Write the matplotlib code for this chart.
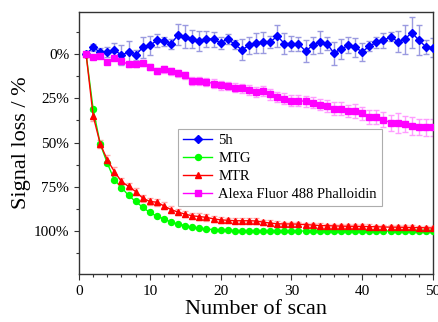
import matplotlib
matplotlib.use("Agg")
import matplotlib.pyplot as plt
from matplotlib.ticker import FixedLocator, MultipleLocator
import numpy as np

plt.rcParams['font.family'] = ['Liberation Serif', 'DejaVu Serif']
plt.rcParams['mathtext.fontset'] = 'stix'

scans = list(range(1, 51))

loss_5h = [0, -3.8, -1, -1.3, -2.3, 0.6, -1.3, 0.6, -3.8, -4.9,
           -7.7, -7.3, -5.8, -10.9, -9.8, -8.5, -7.3, -8.8, -8.3, -6.4,
           -8.6, -5.5, -2.4, -4.9, -6.4, -6.6, -6.8, -10.2, -6.0, -6.0,
           -5.8, -1.7, -4.9, -6.8, -6.0, -0.6, -2.8, -4.9, -3.8, -1.3,
           -4.5, -6.6, -7.7, -9.8, -7.1, -8.3, -12.2, -7.9, -4.1, -3.6]
err_5h = [0, 2.0, 2.5, 3.0, 4.0, 5.5, 6.0, 3.0, 6.0, 5.5,
          3.5, 2.5, 3.0, 6.0, 6.5, 5.0, 5.5, 4.5, 4.0, 3.5,
          3.0, 2.5, 6.0, 5.0, 5.5, 6.0, 3.5, 6.0, 6.0, 4.5,
          4.0, 6.0, 5.0, 6.0, 3.5, 6.5, 5.5, 4.5, 5.5, 5.0,
          3.0, 3.0, 4.5, 2.5, 6.0, 8.0, 9.0, 8.5, 4.0, 5.5]

loss_mtg = [0, 31.2, 50.8, 61.7, 71.1, 75.4, 79.9, 83.3, 86.6, 89.5,
            91.7, 93.1, 95.0, 96.1, 96.9, 98.0, 98.5, 98.9, 99.2, 99.5,
            99.6, 99.7, 99.8, 99.8, 99.9, 99.9, 99.9, 100, 100, 100,
            100, 100, 100, 100, 100, 100, 100, 100, 100, 100,
            100, 100, 100, 100, 100, 100, 100, 100, 100, 100.2]
err_mtg = [0, 1.0, 1.0, 0.8, 0.8, 0.6, 0.6, 0.5, 0.5, 0.4,
           0.4, 0.3, 0.3, 0.3, 0.3, 0.3, 0.3, 0.3, 0.3, 0.3,
           0.3, 0.3, 0.3, 0.3, 0.3, 0.3, 0.3, 0.3, 0.3, 0.3,
           0.3, 0.3, 0.3, 0.3, 0.3, 0.3, 0.3, 0.3, 0.3, 0.3,
           0.3, 0.3, 0.3, 0.3, 0.3, 0.3, 0.3, 0.3, 0.3, 0.3]

loss_mtr = [0, 35.0, 50.8, 59.8, 66.4, 72.0, 74.8, 77.7, 81.4, 83.3,
            83.7, 85.8, 87.9, 89.3, 90.5, 91.4, 91.8, 92.3, 93.1, 93.7,
            93.9, 94.2, 94.2, 94.2, 94.3, 95.0, 95.5, 95.9, 96.0, 96.0,
            96.1, 96.4, 96.6, 96.9, 97.0, 97.1, 97.2, 97.3, 97.3, 97.4,
            97.5, 97.6, 97.7, 97.8, 97.8, 97.9, 98.0, 98.1, 98.2, 98.3]
err_mtr = [0, 3.0, 2.5, 2.5, 2.5, 2.0, 2.0, 2.0, 2.0, 2.0,
           2.0, 2.0, 2.0, 1.8, 1.8, 1.8, 1.8, 1.8, 1.8, 1.5,
           1.5, 1.5, 1.5, 1.5, 1.5, 1.5, 1.5, 1.5, 1.2, 1.2,
           1.2, 1.2, 1.2, 1.2, 1.2, 1.2, 1.2, 1.2, 1.2, 1.2,
           1.2, 1.2, 1.2, 1.2, 1.2, 1.2, 1.2, 1.2, 1.2, 1.2]

loss_alexa = [0, 1.5, 1.1, 4.5, 2.1, 4.0, 5.8, 5.6, 5.3, 7.3,
              9.4, 8.6, 9.8, 10.7, 12.0, 15.0, 15.0, 15.6, 16.7, 17.7,
              18.0, 19.0, 19.2, 20.5, 21.6, 21.0, 22.7, 24.3, 25.2, 26.3,
              26.3, 26.7, 27.5, 28.6, 29.5, 30.8, 30.8, 32.0, 32.2, 33.5,
              35.7, 35.7, 37.2, 38.7, 38.9, 39.5, 40.6, 41.0, 41.4, 41.4]
err_alexa = [0, 1.0, 1.0, 1.2, 1.2, 1.5, 1.5, 1.5, 1.5, 1.8,
             1.8, 1.8, 2.0, 2.0, 2.0, 2.2, 2.2, 2.2, 2.5, 2.5,
             2.5, 2.5, 2.5, 2.8, 2.8, 2.8, 3.0, 3.0, 3.0, 3.0,
             3.2, 3.2, 3.2, 3.2, 3.5, 3.5, 3.5, 3.5, 3.8, 3.8,
             4.0, 4.0, 4.2, 4.5, 5.5, 4.5, 5.0, 4.5, 5.0, 5.0]

series_labels = ['5h', 'MTG', 'MTR', 'Alexa Fluor 488 Phalloidin']
y_ticks = [0, 25, 50, 75, 100]
y_tick_labels = ['0%', '25%', '50%', '75%', '100%']

fig = plt.figure(figsize=(4.38, 3.22), dpi=100)
ax = fig.add_axes([0.1804, 0.149, 0.8082, 0.8137])

specs = [
    (loss_5h, err_5h, '#0000FF', 'D', 4.2, '#9a9ae0'),
    (loss_mtg, err_mtg, '#00FF00', 'o', 4.3, '#99ff99'),
    (loss_mtr, err_mtr, '#FF0000', '^', 4.6, '#ffaaaa'),
    (loss_alexa, err_alexa, '#FF00FF', 's', 4.3, '#ff9cff'),
]
handles = []
for (vals, errs, col, mk, ms, ecol), lab in zip(specs, series_labels):
    ax.errorbar(scans, vals, yerr=errs, fmt='none', ecolor=ecol,
                elinewidth=1.0, capsize=2.5, capthick=1.0, zorder=2, clip_on=True)
    h, = ax.plot(scans, vals, color=col, marker=mk, markersize=ms,
                 linewidth=1.0, label=lab, zorder=3, clip_on=True)
    handles.append(h)

ax.set_xlim(0, 50)
ax.set_ylim(124.3, -23.8)
ax.xaxis.set_major_locator(MultipleLocator(10))
ax.xaxis.set_minor_locator(MultipleLocator(2))
ax.yaxis.set_major_locator(FixedLocator(y_ticks))
ax.set_yticklabels(y_tick_labels)
ax.yaxis.set_minor_locator(FixedLocator([-12.5, 12.5, 37.5, 62.5, 87.5, 112.5]))

ax.tick_params(axis='both', which='major', direction='out', labelsize=11,
               width=0.8, color='#333333')
ax.tick_params(axis='x', which='major', length=4.5)
ax.tick_params(axis='y', which='major', length=3.5)
ax.tick_params(axis='both', which='minor', direction='out', length=2.5,
               width=0.8, color='#333333')
for sp in ax.spines.values():
    sp.set_linewidth(1.0)
    sp.set_color('#333333')

ax.set_xlabel('Number of scan', fontsize=16, labelpad=1)
ax.set_ylabel('Signal loss / %', fontsize=16, labelpad=2)

leg = ax.legend(handles=handles, loc='upper left', bbox_to_anchor=(0.28, 0.553),
                borderaxespad=0, fontsize=10.5, frameon=True, fancybox=False,
                edgecolor='#999999', handlelength=2.0, handletextpad=0.4,
                labelspacing=0.32, borderpad=0.35)
leg.get_frame().set_linewidth(0.8)

fig.savefig('out.png', dpi=100)
